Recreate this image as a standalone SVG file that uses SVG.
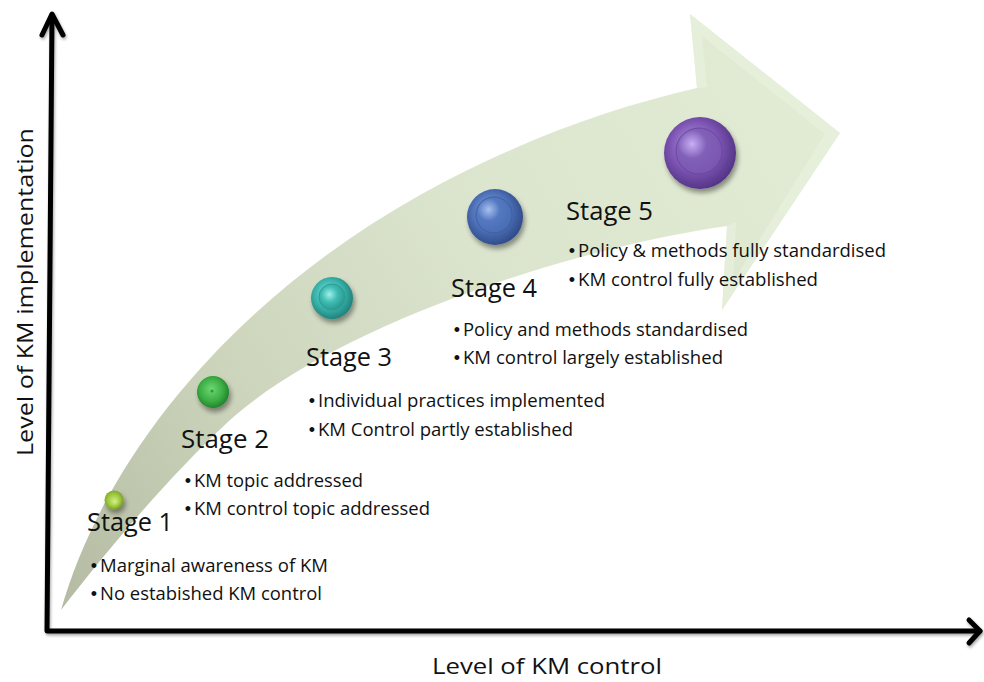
<svg xmlns="http://www.w3.org/2000/svg" width="984" height="682" viewBox="0 0 984 682">
  <defs>
    <linearGradient id="bandFill" gradientUnits="userSpaceOnUse" x1="61" y1="610" x2="840" y2="133">
      <stop offset="0" stop-color="#b4bba2"/>
      <stop offset="0.3" stop-color="#cdd5bd"/>
      <stop offset="0.6" stop-color="#dbe4cd"/>
      <stop offset="1" stop-color="#e2ecd4"/>
    </linearGradient>
    <filter id="soft" x="-20%" y="-20%" width="140%" height="140%">
      <feGaussianBlur in="SourceAlpha" stdDeviation="1.5"/>
      <feOffset dx="1" dy="2" result="b"/>
      <feComponentTransfer><feFuncA type="linear" slope="0.35"/></feComponentTransfer>
      <feMerge><feMergeNode/><feMergeNode in="SourceGraphic"/></feMerge>
    </filter>
    <filter id="ballShadow" x="-40%" y="-40%" width="180%" height="180%">
      <feGaussianBlur in="SourceAlpha" stdDeviation="2.5"/>
      <feOffset dx="2" dy="4" result="b"/>
      <feComponentTransfer><feFuncA type="linear" slope="0.4"/></feComponentTransfer>
      <feMerge><feMergeNode/><feMergeNode in="SourceGraphic"/></feMerge>
    </filter>
    <!-- sphere shading per colour -->
    <radialGradient id="g1" cx="0.45" cy="0.45" r="0.6" fx="0.55" fy="0.6">
      <stop offset="0" stop-color="#d6ef8a"/>
      <stop offset="0.55" stop-color="#9cc83c"/>
      <stop offset="1" stop-color="#6d8f22"/>
    </radialGradient>
    <radialGradient id="g2" cx="0.45" cy="0.45" r="0.6" fx="0.45" fy="0.4">
      <stop offset="0" stop-color="#6fd774"/>
      <stop offset="0.6" stop-color="#3bae44"/>
      <stop offset="1" stop-color="#1f7a27"/>
    </radialGradient>
    <radialGradient id="g3" cx="0.45" cy="0.45" r="0.6" fx="0.4" fy="0.35">
      <stop offset="0" stop-color="#7fe0d8"/>
      <stop offset="0.6" stop-color="#36b1a8"/>
      <stop offset="1" stop-color="#1d7a74"/>
    </radialGradient>
    <radialGradient id="g3i" cx="0.4" cy="0.4" r="0.6">
      <stop offset="0" stop-color="#9ff0ea"/>
      <stop offset="0.5" stop-color="#40bdb4"/>
      <stop offset="1" stop-color="#2a9a92"/>
    </radialGradient>
    <radialGradient id="g4" cx="0.45" cy="0.45" r="0.6" fx="0.4" fy="0.35">
      <stop offset="0" stop-color="#8aa6e0"/>
      <stop offset="0.6" stop-color="#4a6db4"/>
      <stop offset="1" stop-color="#2c4682"/>
    </radialGradient>
    <radialGradient id="g4i" cx="0.35" cy="0.35" r="0.7">
      <stop offset="0" stop-color="#a8c0f0"/>
      <stop offset="0.45" stop-color="#5478c0"/>
      <stop offset="1" stop-color="#4a6db4"/>
    </radialGradient>
    <radialGradient id="g5" cx="0.45" cy="0.45" r="0.6" fx="0.4" fy="0.35">
      <stop offset="0" stop-color="#b596e6"/>
      <stop offset="0.6" stop-color="#7a52b0"/>
      <stop offset="1" stop-color="#4e3080"/>
    </radialGradient>
    <radialGradient id="g5i" cx="0.35" cy="0.35" r="0.7">
      <stop offset="0" stop-color="#c9aef5"/>
      <stop offset="0.45" stop-color="#8160b8"/>
      <stop offset="1" stop-color="#7a56b0"/>
    </radialGradient>
    <style>
      .lbl { font-family: "Open Sans", "Noto Sans", "Liberation Sans", sans-serif; fill: #111; }
      .stage { font-size: 26px; }
      .item { font-size: 19px; }
      .axis { font-size: 22px; }
      .dot { font-family: "Liberation Sans", sans-serif; font-size: 18px; fill: #111; text-anchor: middle; }
      .ax { fill: none; stroke: #000; stroke-width: 5; stroke-linecap: round; stroke-linejoin: round; }
    </style>
  </defs>

  <rect width="984" height="682" fill="#ffffff"/>

  <!-- curved progress arrow -->
  <g id="progress-arrow">
    <path d="M61,610 C110,440 250,290 420,195 C520,140 610,108 697,88 L690,14 L840,133 L722,310 L727,226 C560,250 330,330 230,420 C160,485 100,560 61,610 Z" fill="url(#bandFill)"/>
    <!-- bevel on the arrow head -->
    <path d="M697,88 L690,14 L840,133 L722,310 L727,226 L736,222 L733,282 L825,134 L702,36 L707,87 Z" fill="#eaf2e0" opacity="0.6"/>
  </g>

  <!-- axes -->
  <g id="axes" filter="url(#soft)">
    <polyline class="ax" points="52,15 47,631 980,631"/>
    <polyline class="ax" points="42,35 52,14 63,35"/>
    <polyline class="ax" points="969,620 980,631 969,643"/>
  </g>

  <g id="axis-labels">
    <text class="lbl axis" x="432" y="674" textLength="230" lengthAdjust="spacingAndGlyphs">Level of KM control</text>
    <text class="lbl axis" transform="translate(33,456) rotate(-90)" x="0" y="0" textLength="328" lengthAdjust="spacingAndGlyphs">Level of KM implementation</text>
  </g>

  <!-- stage markers -->
  <g id="stage1" filter="url(#ballShadow)">
    <circle cx="114" cy="500" r="9.5" fill="url(#g1)"/>
  </g>
  <g id="stage2" filter="url(#ballShadow)">
    <circle cx="213" cy="392" r="16" fill="url(#g2)"/>
    <circle cx="212" cy="391" r="1.5" fill="#2e9a35"/>
  </g>
  <g id="stage3" filter="url(#ballShadow)">
    <circle cx="332" cy="298" r="21" fill="url(#g3)"/>
    <circle cx="332" cy="297" r="13" fill="url(#g3i)" stroke="#2c9d95" stroke-width="1"/>
  </g>
  <g id="stage4" filter="url(#ballShadow)">
    <circle cx="495" cy="217" r="28" fill="url(#g4)"/>
    <circle cx="494" cy="215" r="18" fill="url(#g4i)" stroke="#3f5fa2" stroke-width="1"/>
  </g>
  <g id="stage5" filter="url(#ballShadow)">
    <circle cx="700" cy="153" r="36" fill="url(#g5)"/>
    <circle cx="699" cy="151" r="23" fill="url(#g5i)" stroke="#6a47a0" stroke-width="1"/>
  </g>

  <!-- stage texts -->
  <g id="stage1-text">
    <text class="lbl stage" x="87" y="531" textLength="86" lengthAdjust="spacingAndGlyphs">Stage 1</text>
    <text class="dot" x="94" y="572">•</text>
    <text class="lbl item" x="100" y="572" textLength="228" lengthAdjust="spacingAndGlyphs">Marginal awareness of KM</text>
    <text class="dot" x="94" y="600">•</text>
    <text class="lbl item" x="100" y="600" textLength="222" lengthAdjust="spacingAndGlyphs">No estabished KM control</text>
  </g>
  <g id="stage2-text">
    <text class="lbl stage" x="181" y="448" textLength="88" lengthAdjust="spacingAndGlyphs">Stage 2</text>
    <text class="dot" x="188" y="487">•</text>
    <text class="lbl item" x="194" y="487" textLength="169" lengthAdjust="spacingAndGlyphs">KM topic addressed</text>
    <text class="dot" x="188" y="515">•</text>
    <text class="lbl item" x="194" y="515" textLength="236" lengthAdjust="spacingAndGlyphs">KM control topic addressed</text>
  </g>
  <g id="stage3-text">
    <text class="lbl stage" x="306" y="366" textLength="86" lengthAdjust="spacingAndGlyphs">Stage 3</text>
    <text class="dot" x="312" y="407">•</text>
    <text class="lbl item" x="318" y="407" textLength="287" lengthAdjust="spacingAndGlyphs">Individual practices implemented</text>
    <text class="dot" x="312" y="436">•</text>
    <text class="lbl item" x="318" y="436" textLength="255" lengthAdjust="spacingAndGlyphs">KM Control partly established</text>
  </g>
  <g id="stage4-text">
    <text class="lbl stage" x="451" y="297" textLength="86" lengthAdjust="spacingAndGlyphs">Stage 4</text>
    <text class="dot" x="457" y="336">•</text>
    <text class="lbl item" x="463" y="336" textLength="285" lengthAdjust="spacingAndGlyphs">Policy and methods standardised</text>
    <text class="dot" x="457" y="364">•</text>
    <text class="lbl item" x="463" y="364" textLength="260" lengthAdjust="spacingAndGlyphs">KM control largely established</text>
  </g>
  <g id="stage5-text">
    <text class="lbl stage" x="566" y="220" textLength="87" lengthAdjust="spacingAndGlyphs">Stage 5</text>
    <text class="dot" x="572" y="257">•</text>
    <text class="lbl item" x="578" y="257" textLength="308" lengthAdjust="spacingAndGlyphs">Policy &amp; methods fully standardised</text>
    <text class="dot" x="572" y="286">•</text>
    <text class="lbl item" x="578" y="286" textLength="240" lengthAdjust="spacingAndGlyphs">KM control fully established</text>
  </g>
</svg>
